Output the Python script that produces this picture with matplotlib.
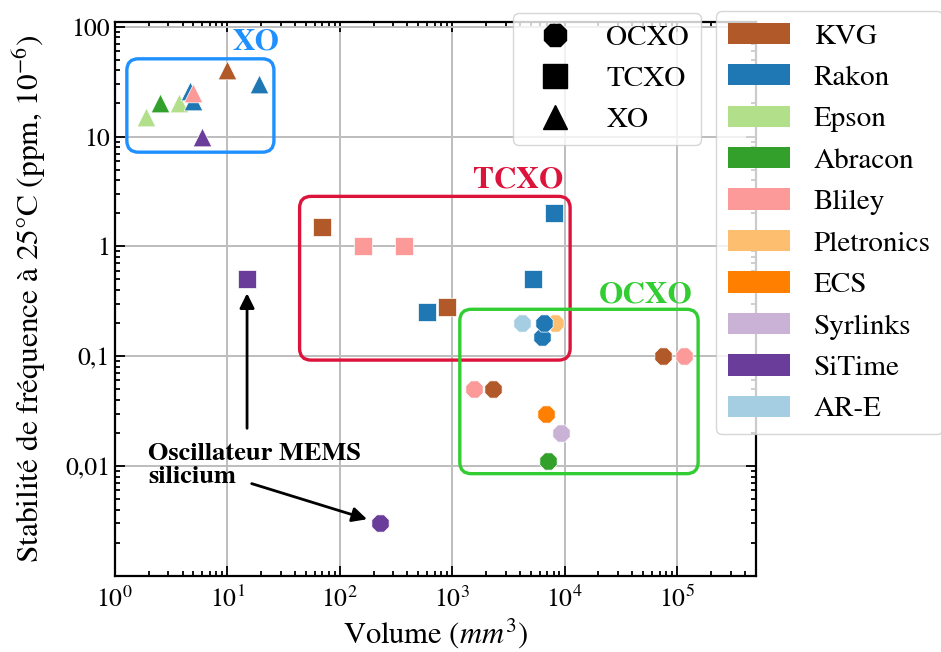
import matplotlib
matplotlib.use('Agg')
import matplotlib.pyplot as plt
from matplotlib.patches import FancyBboxPatch, Patch
from matplotlib.lines import Line2D
import matplotlib.ticker as mticker
import numpy as np

plt.rcParams['font.family'] = ['STIXGeneral', 'DejaVu Serif']
plt.rcParams['mathtext.fontset'] = 'stix'

# ---------------- data ----------------
manufacturers = ['KVG', 'Rakon', 'Epson', 'Abracon', 'Bliley', 'Pletronics',
                 'ECS', 'Syrlinks', 'SiTime', 'AR-E']
maker_colors = ['#b15928', '#1f78b4', '#b2df8a', '#33a02c', '#fb9a99',
                '#fdbf6f', '#ff7f00', '#cab2d6', '#6a3d9a', '#a6cee3']

types = ['OCXO', 'TCXO', 'XO']
type_markers = ['8', 's', '^']

# XO (triangles)
xo_maker = ['Epson', 'Abracon', 'Epson', 'Rakon', 'Rakon', 'Bliley', 'SiTime', 'KVG', 'Rakon']
xo_volume = [1.9, 2.5, 3.7, 4.7, 5.0, 5.0, 6.0, 10, 19]
xo_stability = [15, 20, 20, 26, 21, 25, 10, 40, 30]

# TCXO (squares)
tcxo_maker = ['KVG', 'Bliley', 'Bliley', 'Rakon', 'KVG', 'Rakon', 'Rakon', 'SiTime']
tcxo_volume = [70, 160, 370, 600, 900, 5200, 8000, 15]
tcxo_stability = [1.5, 1.0, 1.0, 0.25, 0.28, 0.5, 2.0, 0.5]

# OCXO (octagons)
ocxo_maker = ['AR-E', 'Pletronics', 'Rakon', 'Rakon', 'KVG', 'Bliley', 'Bliley',
              'KVG', 'ECS', 'Syrlinks', 'Abracon', 'SiTime']
ocxo_volume = [4200, 8200, 6300, 6500, 75000, 115000, 1550, 2300, 6800, 9300, 7100, 230]
ocxo_stability = [0.2, 0.2, 0.15, 0.2, 0.1, 0.1, 0.05, 0.05, 0.03, 0.02, 0.011, 0.003]

x_ticks = [1, 10, 100, 1e3, 1e4, 1e5]
x_ticklabels = ['$10^{0}$', '$10^{1}$', '$10^{2}$', '$10^{3}$', '$10^{4}$', '$10^{5}$']
y_ticks = [0.01, 0.1, 1, 10, 100]
y_ticklabels = ['0,01', '0,1', '1', '10', '100']

# group boxes (xmin, xmax, ymin, ymax) in data units
group_names = ['XO', 'TCXO', 'OCXO']
group_colors = ['#1e90ff', '#dc143c', '#32cd32']
group_boxes = [(1.28, 26, 7.2, 51), (44, 11200, 0.092, 2.85), (1170, 1.54e5, 0.0085, 0.267)]
group_label_pos = [(18, 72), (3850, 4.0), (53000, 0.36)]

# ---------------- figure ----------------
fig = plt.figure(figsize=(9.41, 6.52), dpi=100)
ax = fig.add_axes([0.122, 0.117, 0.681, 0.849])
ax.set_xscale('log')
ax.set_yscale('log')
ax.set_xlim(1, 5e5)
ax.set_ylim(1e-3, 110)

cmap = dict(zip(manufacturers, maker_colors))
for mk, vols, stabs, marker in [(ocxo_maker, ocxo_volume, ocxo_stability, '8'),
                                (tcxo_maker, tcxo_volume, tcxo_stability, 's'),
                                (xo_maker, xo_volume, xo_stability, '^')]:
    for m, v, s in zip(mk, vols, stabs):
        ax.scatter(v, s, marker=marker, s=180, color=cmap[m], edgecolors='white',
                   linewidths=0.5, zorder=3)

ax.grid(True, which='major', color='#bdbdbd', lw=1.4)
ax.set_axisbelow(True)
ax.xaxis.set_major_locator(mticker.FixedLocator(x_ticks))
ax.xaxis.set_major_formatter(mticker.FixedFormatter(x_ticklabels))
ax.yaxis.set_major_locator(mticker.FixedLocator(y_ticks))
ax.yaxis.set_major_formatter(mticker.FixedFormatter(y_ticklabels))
ax.yaxis.set_minor_locator(mticker.LogLocator(base=10, subs=np.arange(2, 10)))
ax.xaxis.set_minor_locator(mticker.LogLocator(base=10, subs=np.arange(2, 10)))
ax.yaxis.set_minor_formatter(mticker.NullFormatter())
ax.xaxis.set_minor_formatter(mticker.NullFormatter())
ax.tick_params(which='both', direction='in', top=True, right=True, width=1.3,
               labelsize=18.5)
ax.tick_params(axis='x', which='major', pad=8)
ax.tick_params(which='major', length=7)
ax.tick_params(which='minor', length=3.5)
for sp in ax.spines.values():
    sp.set_linewidth(1.6)

ax.set_xlabel('Volume ($mm^3$)', fontsize=22, labelpad=2)
ax.set_ylabel('Stabilité de fréquence à 25°C (ppm, $10^{-6}$)', fontsize=22.6, labelpad=12)

# group boxes
to_axes = ax.transScale + ax.transLimits
bb = ax.get_window_extent()
aspect = bb.width / bb.height
for name, col, (x0, x1, y0, y1), (lx, ly) in zip(group_names, group_colors, group_boxes, group_label_pos):
    (ax0, ay0), (ax1, ay1) = to_axes.transform([(x0, y0), (x1, y1)])
    p = FancyBboxPatch((ax0, ay0), ax1 - ax0, ay1 - ay0,
                       boxstyle='round,pad=0,rounding_size=0.018',
                       mutation_aspect=aspect,
                       transform=ax.transAxes, fill=False, ec=col, lw=2.4, zorder=2)
    ax.add_patch(p)
    ax.text(lx, ly, name, color=col, fontsize=22.5, fontweight='bold',
            ha='center', va='center', zorder=4)

# annotation
ax.text(1.97, 0.0101, 'Oscillateur MEMS\nsilicium', fontsize=19, fontweight='bold',
        ha='left', va='center', linespacing=1.05, zorder=4)
arrow = dict(arrowstyle='-|>', color='black', lw=2, mutation_scale=22,
             shrinkA=0, shrinkB=10)
ax.annotate('', xy=(tcxo_volume[7], tcxo_stability[7]), xytext=(15, 0.022),
            arrowprops=arrow, zorder=4)
ax.annotate('', xy=(ocxo_volume[11], ocxo_stability[11]), xytext=(16.5, 0.0069),
            arrowprops=arrow, zorder=4)

# legends
type_handles = [Line2D([], [], marker=mk, color='black', linestyle='', markersize=17)
                for mk in type_markers]
leg1 = fig.legend(type_handles, types, loc='upper left',
                  bbox_to_anchor=(513 / 941, 1 - 13 / 652), borderaxespad=0,
                  fontsize=21, handlelength=2.1, labelspacing=0.5, handletextpad=0.7)
maker_handles = [Patch(facecolor=c) for c in maker_colors]
leg2 = fig.legend(maker_handles, manufacturers, loc='upper left',
                  bbox_to_anchor=(716 / 941, 1 - 11 / 652), borderaxespad=0,
                  fontsize=21, handlelength=2.15, handleheight=0.75,
                  labelspacing=0.5, handletextpad=0.8)

fig.savefig('out.png', dpi=100)
